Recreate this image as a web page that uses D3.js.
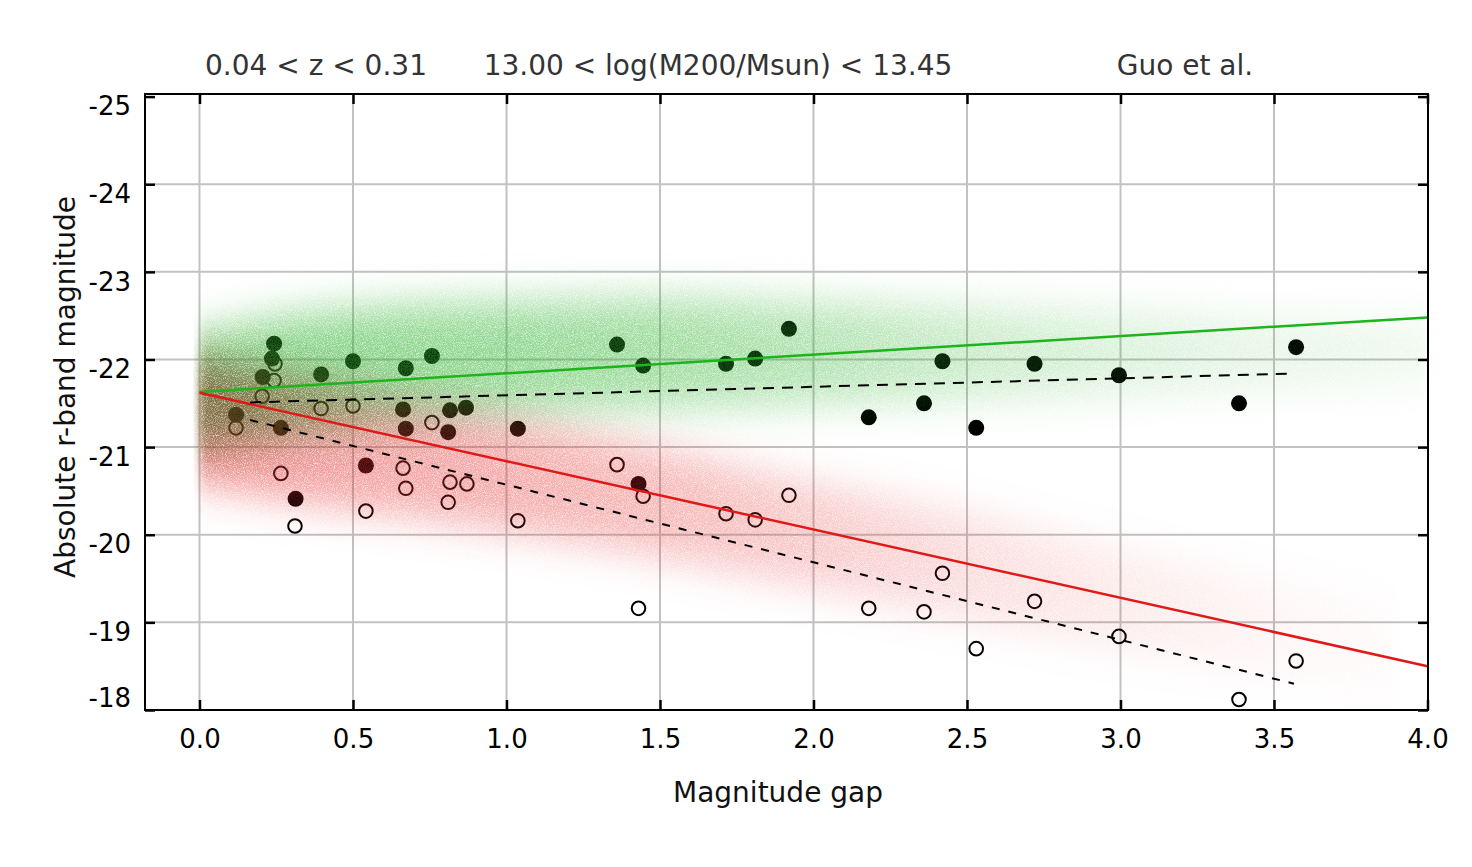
<!DOCTYPE html>
<html>
<head>
<meta charset="utf-8">
<script src="https://cdn.jsdelivr.net/npm/d3@7"></script>
<style>
  body { margin: 0; background: #fff; }
  svg { display: block; font-family: "DejaVu Sans", sans-serif; }
</style>
</head>
<body>
<svg width="1472" height="867"></svg>
<script>
// axis ticks
const xTicks = [0.0, 0.5, 1.0, 1.5, 2.0, 2.5, 3.0, 3.5, 4.0];
const yTicks = [-25, -24, -23, -22, -21, -20, -19, -18];

// brightest group galaxy (filled) : magnitude gap, absolute r mag
const gapFirst = [0.119, 0.243, 0.236, 0.206, 0.265, 0.313, 0.396, 0.500, 0.542, 0.672,
  0.663, 0.672, 0.757, 0.810, 0.816, 0.868, 1.037, 1.360, 1.445, 1.430,
  1.715, 1.810, 1.920, 2.180, 2.360, 2.420, 2.530, 2.720, 2.995, 3.386, 3.572];
const magFirst = [-21.37, -22.18, -22.01, -21.80, -21.22, -20.41, -21.83, -21.98, -20.79, -21.90,
  -21.43, -21.21, -22.04, -21.17, -21.42, -21.45, -21.21, -22.17, -21.93, -20.58,
  -21.95, -22.01, -22.35, -21.34, -21.50, -21.98, -21.22, -21.95, -21.82, -21.50, -22.14];

// second brightest (open)
const gapSecond = [0.119, 0.246, 0.243, 0.204, 0.265, 0.311, 0.396, 0.500, 0.542, 0.663,
  0.672, 0.757, 0.816, 0.810, 0.871, 1.037, 1.360, 1.430, 1.445, 1.715,
  1.810, 1.920, 2.180, 2.360, 2.420, 2.530, 2.720, 2.995, 3.386, 3.572];
const magSecond = [-21.22, -21.95, -21.76, -21.58, -20.70, -20.10, -21.44, -21.47, -20.27, -20.76,
  -20.53, -21.28, -20.60, -20.37, -20.58, -20.16, -20.80, -19.16, -20.44, -20.24,
  -20.17, -20.45, -19.16, -19.12, -19.56, -18.70, -19.24, -18.84, -18.12, -18.56];

// model fits (Guo et al.)
const greenFitGap = [0.0, 4.0];
const greenFitMag = [-21.63, -22.48];
const redFitGap = [0.0, 4.0];
const redFitMag = [-21.62, -18.50];

// fits to the observed groups
const dashTopGap = [0.165, 3.565];
const dashTopMag = [-21.51, -21.84];
const dashLowGap = [0.165, 3.565];
const dashLowMag = [-21.31, -18.30];

// model clouds (extent and density along the gap axis)
const greenCloudGap = [0.0, 0.3, 0.6, 1.0, 1.5, 2.0, 2.5, 3.0, 3.5, 4.0];
const greenCloudTop = [-22.3, -22.5, -22.6, -22.65, -22.7, -22.65, -22.6, -22.55, -22.5, -22.5];
const greenCloudBot = [-21.0, -21.15, -21.3, -21.4, -21.45, -21.5, -21.55, -21.6, -21.65, -21.7];
const greenCloudDen = [0.6, 0.58, 0.55, 0.52, 0.46, 0.38, 0.27, 0.18, 0.12, 0.08];

const redCloudGap = [0.0, 0.3, 0.6, 1.0, 1.5, 2.0, 2.5, 3.0, 3.5, 3.9];
const redCloudTop = [-22.0, -21.8, -21.6, -21.35, -21.0, -20.6, -20.25, -19.85, -19.5, -19.2];
const redCloudBot = [-20.6, -20.4, -20.25, -20.05, -19.75, -19.4, -19.05, -18.7, -18.4, -18.15];
const redCloudDen = [0.6, 0.5, 0.44, 0.4, 0.34, 0.26, 0.17, 0.1, 0.05, 0.02];

const titles = ["0.04 < z < 0.31", "13.00 < log(M200/Msun) < 13.45", "Guo et al."];

const plotL = 145, plotR = 1428, plotT = 94, plotB = 710;

let x = d3.scaleLinear().domain([0, 4]).range([199.5, 1427.5]);
let y = d3.scaleLinear().domain([-18, -25]).range([710, 96.6]);

const svg = d3.select("svg");
const defs = svg.append("defs");

defs.append("clipPath").attr("id", "plot")
  .append("rect").attr("x", plotL).attr("y", plotT)
  .attr("width", plotR - plotL).attr("height", plotB - plotT);
defs.append("clipPath").attr("id", "cloudclip")
  .append("rect").attr("x", x(-0.02)).attr("y", plotT)
  .attr("width", plotR - x(-0.02)).attr("height", plotB - plotT);

// grainy blurred cloud
const filt = defs.append("filter").attr("id", "grain")
  .attr("filterUnits", "userSpaceOnUse")
  .attr("x", plotL).attr("y", plotT).attr("width", plotR - plotL).attr("height", plotB - plotT);
filt.append("feGaussianBlur").attr("in", "SourceGraphic")
  .attr("stdDeviation", "5 20").attr("result", "blur");
filt.append("feTurbulence").attr("type", "fractalNoise")
  .attr("baseFrequency", "1.1").attr("numOctaves", 2).attr("seed", 5).attr("result", "noise");
filt.append("feColorMatrix").attr("in", "noise").attr("type", "matrix")
  .attr("values", "0 0 0 0 0  0 0 0 0 0  0 0 0 0 0  1.6 0 0 0 0.05").attr("result", "mask");
filt.append("feComposite").attr("in", "blur").attr("in2", "mask").attr("operator", "in");

function gradient(id, gaps, dens) {
  const g = defs.append("linearGradient").attr("id", id)
    .attr("gradientUnits", "userSpaceOnUse")
    .attr("x1", x(0)).attr("x2", x(4)).attr("y1", 0).attr("y2", 0);
  gaps.forEach((v, i) => {
    g.append("stop").attr("offset", v / 4).attr("stop-color", "#fff").attr("stop-opacity", dens[i]);
  });
}
gradient("greenDen", greenCloudGap, greenCloudDen);
gradient("redDen", redCloudGap, redCloudDen);

function densityMask(id, grad) {
  defs.append("mask").attr("id", id)
    .attr("maskUnits", "userSpaceOnUse")
    .attr("x", 0).attr("y", 0).attr("width", 1472).attr("height", 867)
    .append("rect").attr("x", 0).attr("y", 0).attr("width", 1472).attr("height", 867)
    .attr("fill", `url(#${grad})`);
}
densityMask("mRed", "redDen");
densityMask("mGreen", "greenDen");

// grid
const grid = svg.append("g").attr("stroke", "#c2c2c2").attr("stroke-width", 2);
grid.selectAll("line.v").data(xTicks.filter(d => d < 4)).enter().append("line")
  .attr("class", "v")
  .attr("x1", d => x(d)).attr("x2", d => x(d)).attr("y1", plotT).attr("y2", plotB);
grid.selectAll("line.h").data(yTicks.filter(d => d > -25 && d < -18)).enter().append("line")
  .attr("class", "h")
  .attr("x1", plotL).attr("x2", plotR).attr("y1", d => y(d)).attr("y2", d => y(d));

// points (under the model cloud)
const pts = svg.append("g").attr("clip-path", "url(#plot)");
pts.selectAll("circle.first").data(gapFirst).enter().append("circle")
  .attr("class", "first")
  .attr("cx", d => x(d)).attr("cy", (d, i) => y(magFirst[i]))
  .attr("r", 8).attr("fill", "#000");
pts.selectAll("circle.second").data(gapSecond).enter().append("circle")
  .attr("class", "second")
  .attr("cx", d => x(d)).attr("cy", (d, i) => y(magSecond[i]))
  .attr("r", 6.8).attr("fill", "none").attr("stroke", "#000").attr("stroke-width", 2);

// model clouds
function band(gaps, tops, bots) {
  return gaps.map((g, i) => ({ g: g, t: tops[i], b: bots[i] }));
}
let area = d3.area()
  .x(d => x(d.g)).y0(d => y(d.b)).y1(d => y(d.t))
  .curve(d3.curveMonotoneX);

const cloud = svg.append("g").attr("clip-path", "url(#cloudclip)")
  .style("isolation", "isolate");

cloud.append("g").attr("mask", "url(#mRed)")
  .append("path")
  .datum(band(redCloudGap, redCloudTop, redCloudBot))
  .attr("d", area).attr("fill", "rgb(228,45,45)").attr("filter", "url(#grain)");
cloud.append("g").attr("mask", "url(#mGreen)").style("mix-blend-mode", "multiply")
  .append("path")
  .datum(band(greenCloudGap, greenCloudTop, greenCloudBot))
  .attr("d", area).attr("fill", "rgb(45,180,45)").attr("filter", "url(#grain)");

// fit lines
let line = d3.line().x(d => x(d[0])).y(d => y(d[1]));
const lines = svg.append("g").attr("clip-path", "url(#plot)").attr("fill", "none");
lines.append("path").datum(greenFitGap.map((g, i) => [g, greenFitMag[i]]))
  .attr("d", line).attr("stroke", "#1cb51c").attr("stroke-width", 2.5);
lines.append("path").datum(redFitGap.map((g, i) => [g, redFitMag[i]]))
  .attr("d", line).attr("stroke", "#e01818").attr("stroke-width", 2.5);
lines.append("path").datum(dashTopGap.map((g, i) => [g, dashTopMag[i]]))
  .attr("d", line).attr("stroke", "#000").attr("stroke-width", 2).attr("stroke-dasharray", "11,8");
lines.append("path").datum(dashLowGap.map((g, i) => [g, dashLowMag[i]]))
  .attr("d", line).attr("stroke", "#000").attr("stroke-width", 2).attr("stroke-dasharray", "8,9");

// axes with inside ticks
let xAxis = d3.axisBottom(x).tickValues(xTicks).tickSize(-10).tickPadding(20).tickFormat(d => d.toFixed(1));
let yAxis = d3.axisLeft(y).tickValues(yTicks).tickSize(-10).tickPadding(14).tickFormat(d => String(d));

const gx = svg.append("g").attr("transform", `translate(0,${plotB})`).call(xAxis);
const gy = svg.append("g").attr("transform", `translate(${plotL},0)`).call(yAxis);
svg.append("g").attr("transform", `translate(0,${plotT})`)
  .call(d3.axisTop(x).tickValues(xTicks).tickSize(-10).tickFormat(""));
svg.append("g").attr("transform", `translate(${plotR},0)`)
  .call(d3.axisRight(y).tickValues(yTicks).tickSize(-10).tickFormat(""));

svg.selectAll(".domain").remove();
svg.selectAll(".tick line").attr("stroke", "#000").attr("stroke-width", 2.5);
svg.selectAll(".tick text").attr("fill", "#000").style("font-family", "DejaVu Sans").style("font-size", "26px");
gx.selectAll(".tick text").attr("dy", "0.71em");
gy.selectAll(".tick text").attr("dy", d => d === -18 ? "-0.12em" : "0.7em");

// frame
svg.append("rect").attr("x", plotL).attr("y", plotT)
  .attr("width", plotR - plotL).attr("height", plotB - plotT)
  .attr("fill", "none").attr("stroke", "#000").attr("stroke-width", 2);

// titles
const titleX = [316, 718, 1185];
svg.selectAll("text.title").data(titles).enter().append("text")
  .attr("class", "title")
  .attr("x", (d, i) => titleX[i]).attr("y", 75)
  .attr("text-anchor", "middle").attr("fill", "#333")
  .style("font-size", "28px").text(d => d);

svg.append("text").attr("x", 778).attr("y", 802)
  .attr("text-anchor", "middle").attr("fill", "#111")
  .style("font-size", "28px").text("Magnitude gap");
svg.append("text").attr("transform", "translate(75,387) rotate(-90)")
  .attr("text-anchor", "middle").attr("fill", "#111")
  .style("font-size", "28px").text("Absolute r-band magnitude");
</script>
</body>
</html>
